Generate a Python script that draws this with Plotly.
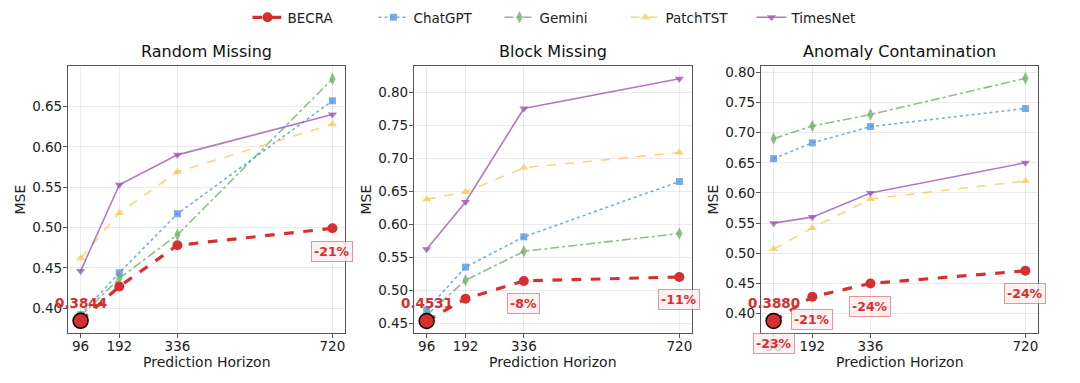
import plotly.graph_objects as go

horizons = [96, 192, 336, 720]
panels = ["Random Missing", "Block Missing", "Anomaly Contamination"]
models = ["BECRA", "ChatGPT", "Gemini", "PatchTST", "TimesNet"]

becra = [[0.3844, 0.427, 0.478, 0.499],
         [0.4531, 0.487, 0.514, 0.520],
         [0.3880, 0.428, 0.450, 0.471]]
chatgpt = [[0.392, 0.444, 0.517, 0.657],
           [0.470, 0.535, 0.581, 0.665],
           [0.657, 0.683, 0.710, 0.740]]
gemini = [[0.390, 0.437, 0.491, 0.684],
          [0.462, 0.515, 0.559, 0.586],
          [0.690, 0.711, 0.730, 0.790]]
patchtst = [[0.462, 0.518, 0.569, 0.628],
            [0.638, 0.649, 0.686, 0.709],
            [0.507, 0.542, 0.590, 0.620]]
timesnet = [[0.446, 0.553, 0.590, 0.640],
            [0.562, 0.634, 0.776, 0.821],
            [0.550, 0.560, 0.600, 0.650]]
improve = [[None, None, None, "-21%"],
           [None, None, "-8%", "-11%"],
           ["-23%", "-21%", "-24%", "-24%"]]
y_ranges = [[0.369, 0.7005], [0.4345, 0.841], [0.3675, 0.811]]
y_ticks = [[0.40, 0.45, 0.50, 0.55, 0.60, 0.65],
           [0.45, 0.50, 0.55, 0.60, 0.65, 0.70, 0.75, 0.80],
           [0.40, 0.45, 0.50, 0.55, 0.60, 0.65, 0.70, 0.75, 0.80]]

RED = "#d62f2f"
styles = {
    "ChatGPT": dict(color="rgba(74,144,226,0.75)", dash="dot", symbol="square", size=7),
    "Gemini": dict(color="rgba(106,170,100,0.75)", dash="dashdot", symbol="diamond-tall", size=9),
    "PatchTST": dict(color="rgba(249,199,79,0.75)", dash="dash", symbol="triangle-up", size=8),
    "TimesNet": dict(color="rgba(155,89,182,0.8)", dash="solid", symbol="triangle-down", size=8),
}
series = {"ChatGPT": chatgpt, "Gemini": gemini, "PatchTST": patchtst, "TimesNet": timesnet}

W, H = 1080, 383
xdoms = [(68, 345), (414, 692), (761, 1038)]
ytop, ybot = 64, 333
FONT = "DejaVu Sans"
TICKFONT = dict(size=13.5, family=FONT, color="#222")

fig = go.Figure()
layout = dict(
    width=W, height=H,
    margin=dict(l=0, r=0, t=0, b=0),
    paper_bgcolor="white", plot_bgcolor="white",
    font=dict(family=FONT, size=13, color="#222"),
    showlegend=True,
    legend=dict(orientation="h", x=0.5208, xanchor="center", y=1.0, yanchor="top",
                font=dict(size=13.5, family=FONT, color="#222"), bgcolor="rgba(0,0,0,0)",
                itemwidth=30, entrywidth=81, entrywidthmode="pixels", tracegroupgap=0),
)
annotations = []

for i in range(3):
    xa = "x" if i == 0 else f"x{i+1}"
    ya = "y" if i == 0 else f"y{i+1}"
    xkey = "xaxis" if i == 0 else f"xaxis{i+1}"
    ykey = "yaxis" if i == 0 else f"yaxis{i+1}"
    x0, x1 = xdoms[i]
    layout[xkey] = dict(
        domain=[x0 / W, x1 / W], anchor=ya, range=[64.8, 751.2],
        tickvals=horizons, ticktext=[str(h) for h in horizons],
        showgrid=True, gridcolor="rgba(0,0,0,0.08)", gridwidth=1,
        showline=True, mirror=True, linecolor="#555", linewidth=1.2,
        ticks="outside", ticklen=4, tickcolor="#555", zeroline=False,
        tickfont=TICKFONT, ticklabelstandoff=-4,
    )
    layout[ykey] = dict(
        domain=[1 - ybot / H, 1 - ytop / H], anchor=xa, range=y_ranges[i],
        tickvals=y_ticks[i], tickformat=".2f",
        showgrid=True, gridcolor="rgba(0,0,0,0.08)", gridwidth=1,
        showline=True, mirror=True, linecolor="#555", linewidth=1.2,
        ticks="outside", ticklen=4, tickcolor="#555", zeroline=False,
        tickfont=TICKFONT, ticklabelstandoff=-2,
    )
    for name in ["ChatGPT", "Gemini", "PatchTST", "TimesNet"]:
        s = styles[name]
        fig.add_trace(go.Scatter(
            x=horizons, y=series[name][i], xaxis=xa, yaxis=ya, name=name,
            mode="lines+markers", legendgroup=name, showlegend=(i == 0),
            line=dict(color=s["color"], dash=s["dash"], width=1.6),
            marker=dict(symbol=s["symbol"], size=s["size"], color=s["color"]),
            cliponaxis=False,
        ))
    fig.add_trace(go.Scatter(
        x=horizons, y=becra[i], xaxis=xa, yaxis=ya, name="BECRA",
        mode="lines+markers", legendgroup="BECRA", showlegend=(i == 0),
        line=dict(color=RED, dash="dash", width=3.2),
        marker=dict(symbol="circle", size=10, color=RED),
        cliponaxis=False, legendrank=1,
    ))
    fig.add_trace(go.Scatter(
        x=[horizons[0]], y=[becra[i][0]], xaxis=xa, yaxis=ya, name="BECRA best",
        mode="markers", showlegend=False,
        marker=dict(symbol="circle", size=15, color=RED, line=dict(color="black", width=1.5)),
        cliponaxis=False,
    ))
    annotations.append(dict(
        x=horizons[0], y=becra[i][0], xref=xa, yref=ya, text=f"<b>{becra[i][0]:.4f}</b>",
        showarrow=False, yshift=18, font=dict(size=13.5, color=RED, family=FONT),
    ))
    for j, lab in enumerate(improve[i]):
        if lab is None:
            continue
        annotations.append(dict(
            x=horizons[j], y=becra[i][j], xref=xa, yref=ya, text=f"<b>{lab}</b>",
            showarrow=False, yshift=-23, font=dict(size=12.5, color=RED, family=FONT),
            bgcolor="rgba(255,238,238,0.8)", bordercolor="rgba(214,47,47,0.5)",
            borderwidth=1, borderpad=2,
        ))
    cx = (x0 + x1) / 2 / W
    annotations.append(dict(
        x=cx, y=1 - 50 / H, xref="paper", yref="paper", text=panels[i],
        showarrow=False, font=dict(size=16, family=FONT, color="#111"),
        xanchor="center", yanchor="middle",
    ))
    annotations.append(dict(
        x=cx, y=1 - 362 / H, xref="paper", yref="paper", text="Prediction Horizon",
        showarrow=False, font=dict(size=14, family=FONT, color="#222"),
        xanchor="center", yanchor="middle",
    ))
    annotations.append(dict(
        x=(x0 - 48) / W, y=1 - ((ytop + ybot) / 2) / H, xref="paper", yref="paper", text="MSE",
        showarrow=False, textangle=-90, font=dict(size=14, family=FONT, color="#222"),
        xanchor="center", yanchor="middle",
    ))

layout["annotations"] = annotations
fig.update_layout(**layout)
fig.write_html("out.html")
